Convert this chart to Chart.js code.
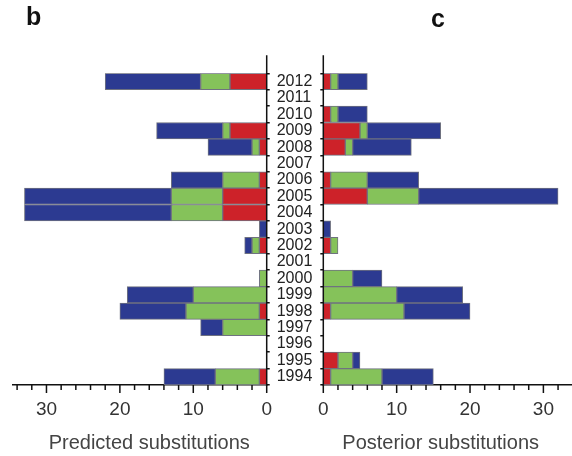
<!DOCTYPE html>
<html>
<head>
<meta charset="utf-8">
<script src="https://cdn.jsdelivr.net/npm/chart.js@4.4.0/dist/chart.umd.min.js"></script>
<style>
body { margin:0; background:#fff; width:572px; height:456px; overflow:hidden; position:relative; }
canvas { position:absolute; top:0; }
#left { left:0; width:324px; height:456px; }
#right { left:312px; width:260px; height:456px; }
</style>
</head>
<body>
<canvas id="left" width="324" height="456"></canvas>
<canvas id="right" width="260" height="456"></canvas>
<script>
// years, bottom (1994) to top (2012)
var years = [1994,1995,1996,1997,1998,1999,2000,2001,2002,2003,2004,2005,2006,2007,2008,2009,2010,2011,2012];

// predicted substitutions (left panel)
var predRed   = [1,0,0,0, 1, 0,0,0,1,0, 6, 6,1,0,1,5,0,0, 5];
var predGreen = [6,0,0,6,10,10,1,0,1,0, 7, 7,5,0,1,1,0,0, 4];
var predBlue  = [7,0,0,3, 9, 9,0,0,1,1,20,20,7,0,6,9,0,0,13];

// posterior substitutions (right panel)
var postRed   = [1,2,0,0, 1, 0,0,0,1,0,0, 6,1,0,3, 5,1,0,1];
var postGreen = [7,2,0,0,10,10,4,0,1,0,0, 7,5,0,1, 1,1,0,1];
var postBlue  = [7,1,0,0, 9, 9,4,0,0,1,0,19,7,0,8,10,4,0,4];

var xTickLabels = [0, 10, 20, 30];

var RED = '#cd2229', GREEN = '#85c25a', BLUE = '#2c3a91';
var FONT = '"Liberation Sans", Arial, Helvetica, sans-serif';
Chart.defaults.font.family = FONT;

var axisDecor = {
  id: 'axisDecor',
  afterDraw: function(chart, args, opts) {
    var ctx = chart.ctx, xs = chart.scales.x, area = chart.chartArea;
    ctx.save();
    ctx.strokeStyle = '#111';
    ctx.lineWidth = 1.5;
    xs.ticks.forEach(function(t) {
      var px = xs.getPixelForValue(t.value);
      var len = xTickLabels.indexOf(t.value) >= 0 ? 8 : 5;
      ctx.beginPath();
      ctx.moveTo(px, xs.top);
      ctx.lineTo(px, xs.top + len);
      ctx.stroke();
    });
    // vertical axis, runs a bit above the top year
    var ax = opts.side === 'right' ? area.right : area.left;
    ctx.beginPath();
    ctx.moveTo(ax, area.top - 18);
    ctx.lineTo(ax, area.bottom + 0.75);
    ctx.stroke();
    // axis title
    ctx.fillStyle = '#444';
    ctx.font = '20px ' + FONT;
    ctx.textAlign = 'center';
    ctx.textBaseline = 'middle';
    ctx.fillText(opts.title, xs.getPixelForValue(16), 443);
    // panel letter
    ctx.fillStyle = '#111';
    ctx.font = 'bold 25px ' + FONT;
    ctx.textAlign = 'left';
    ctx.textBaseline = 'alphabetic';
    ctx.fillText(opts.letter, opts.letterX, opts.letterY);
    ctx.restore();
  }
};

function ds(label, data, color) {
  return {
    label: label, data: data, backgroundColor: color,
    borderColor: '#6f7280', borderWidth: 1, borderSkipped: false,
    barPercentage: 1, categoryPercentage: 1
  };
}

function makeChart(id, side, red, green, blue, maxVal, yWidth, pad, title, letter, lx, ly) {
  return new Chart(document.getElementById(id), {
    type: 'bar',
    data: {
      labels: years,
      datasets: [ds('red', red, RED), ds('green', green, GREEN), ds('blue', blue, BLUE)]
    },
    options: {
      indexAxis: 'y',
      responsive: false,
      animation: false,
      layout: { padding: pad },
      plugins: {
        legend: { display: false },
        tooltip: { enabled: false },
        axisDecor: { side: side, title: title, letter: letter, letterX: lx, letterY: ly }
      },
      scales: {
        x: {
          stacked: true,
          reverse: side === 'right',
          min: 0, max: maxVal,
          grid: { display: false },
          border: { display: true, color: '#111', width: 1.5 },
          ticks: {
            stepSize: 2, includeBounds: false, maxRotation: 0, autoSkip: false,
            padding: 5, color: '#333', font: { size: 19 },
            callback: function(v) { return xTickLabels.indexOf(v) >= 0 ? v : ''; }
          },
          afterFit: function(s) { s.height = 71; }
        },
        y: {
          stacked: true,
          reverse: true,
          position: side,
          grid: { drawOnChartArea: false, drawTicks: true, tickLength: 3, color: '#111', lineWidth: 1.5, offset: true },
          border: { display: false },
          ticks: { display: side === 'right', autoSkip: false, padding: 7, color: '#222', font: { size: 16 } },
          afterFit: function(s) { s.width = yWidth; }
        }
      }
    },
    plugins: [axisDecor]
  });
}

makeChart('left', 'right', predRed, predGreen, predBlue, 34.6, 57.3,
  { top: 73.3, left: 12.7, right: 0, bottom: 0 }, 'Predicted substitutions', 'b', 26, 25);
makeChart('right', 'left', postRed, postGreen, postBlue, 33.9, 11.3,
  { top: 73.3, left: 0, right: 0, bottom: 0 }, 'Posterior substitutions', 'c', 119, 27);
</script>
</body>
</html>
